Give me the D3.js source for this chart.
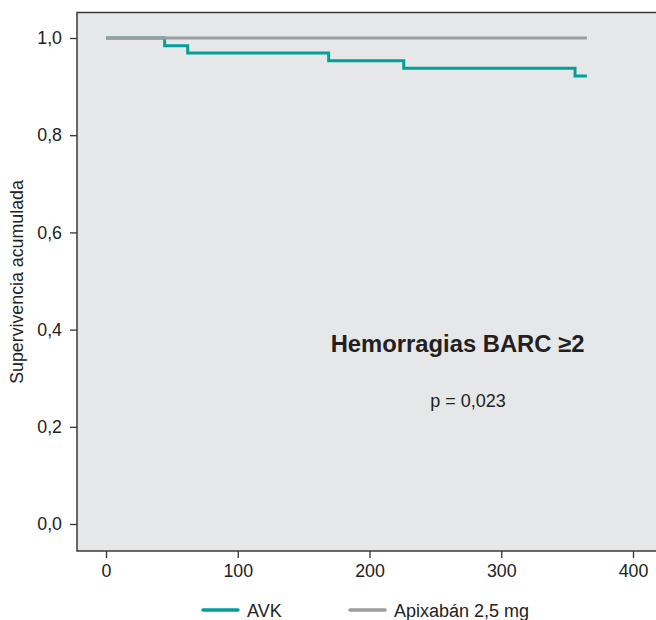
<!DOCTYPE html>
<html><head><meta charset="utf-8">
<script src="https://cdn.jsdelivr.net/npm/d3@7"></script>
<style>html,body{margin:0;padding:0;background:#fff;}svg{display:block;font-family:"Liberation Sans",Arial,Helvetica,sans-serif;}</style>
</head><body>
<script>
// Data
const avkTimes = [0, 44.5, 62, 169, 226, 356, 365];
const avkSurv  = [1, 0.984, 0.969, 0.953, 0.938, 0.922, 0.922];
const apixTimes = [0, 365];
const apixSurv  = [1, 1];
const xTicks = [0, 100, 200, 300, 400];
const yTicks = [0, 0.2, 0.4, 0.6, 0.8, 1.0];
const seriesNames = ["AVK", "Apixabán 2,5 mg"];
const seriesColors = ["#00a099", "#9b9c9e"];

const W = 656, H = 620;
const svg = d3.select("body").append("svg").attr("width", W).attr("height", H);

const plot = {left: 77, top: 12.5, right: 660, bottom: 551};
const x = d3.scaleLinear().domain([0, 400]).range([106, 633]);
const y = d3.scaleLinear().domain([0, 1]).range([524, 38]);

svg.append("rect").attr("x", plot.left).attr("y", plot.top)
  .attr("width", plot.right - plot.left).attr("height", plot.bottom - plot.top)
  .attr("fill", "#e6e7e9");

const fmt = d => d3.format(".1f")(d).replace(".", ",");

// Y axis ticks
const ya = svg.append("g").attr("transform", `translate(${plot.left},0)`)
  .call(d3.axisLeft(y).tickValues(yTicks).tickFormat(fmt).tickSize(7).tickPadding(8));
ya.select(".domain").remove();
ya.selectAll("line").attr("stroke", "#333").attr("stroke-width", 1.3);
ya.selectAll("text").attr("font-size", 17.8).attr("fill", "#222")
  .attr("font-family", "'Liberation Sans',Arial,sans-serif");

// X axis ticks
const xa = svg.append("g").attr("transform", `translate(0,${plot.bottom})`)
  .call(d3.axisBottom(x).tickValues(xTicks).tickFormat(d3.format("d")).tickSize(7).tickPadding(6));
xa.select(".domain").remove();
xa.selectAll("line").attr("stroke", "#333").attr("stroke-width", 1.3);
xa.selectAll("text").attr("font-size", 17.8).attr("fill", "#222")
  .attr("font-family", "'Liberation Sans',Arial,sans-serif");

// Borders
svg.append("path")
  .attr("d", `M${plot.right},${plot.top}H${plot.left}V${plot.bottom}H${plot.right}`)
  .attr("fill", "none").attr("stroke", "#3a3a3a").attr("stroke-width", 1.5);

// Curves
const line = d3.line().curve(d3.curveStepAfter).x(d => x(d[0])).y(d => y(d[1]));
svg.append("path").datum(d3.zip(avkTimes, avkSurv)).attr("d", line)
  .attr("fill", "none").attr("stroke", seriesColors[0]).attr("stroke-width", 3);
svg.append("path").datum(d3.zip(apixTimes, apixSurv)).attr("d", line)
  .attr("fill", "none").attr("stroke", seriesColors[1]).attr("stroke-width", 3);

// Y axis title
svg.append("text").attr("transform", "translate(23,282) rotate(-90)")
  .attr("text-anchor", "middle").attr("font-size", 17.8).attr("fill", "#222")
  .text("Supervivencia acumulada");

// Annotations
svg.append("text").attr("x", 457.5).attr("y", 352).attr("text-anchor", "middle")
  .attr("font-size", 23.8).attr("font-weight", "bold").attr("fill", "#231f20")
  .text("Hemorragias BARC ≥2");
svg.append("text").attr("x", 468).attr("y", 407).attr("text-anchor", "middle")
  .attr("font-size", 18).attr("fill", "#222").text("p = 0,023");

// Legend
const legX = [203, 350];
seriesNames.forEach((n, i) => {
  svg.append("line").attr("x1", legX[i]).attr("x2", legX[i] + 35)
    .attr("y1", 610).attr("y2", 610)
    .attr("stroke", seriesColors[i]).attr("stroke-width", 3.5).attr("stroke-linecap", "round");
  svg.append("text").attr("x", legX[i] + 44).attr("y", 616.5)
    .attr("font-size", 18).attr("fill", "#222").text(n);
});
</script>
</body></html>
